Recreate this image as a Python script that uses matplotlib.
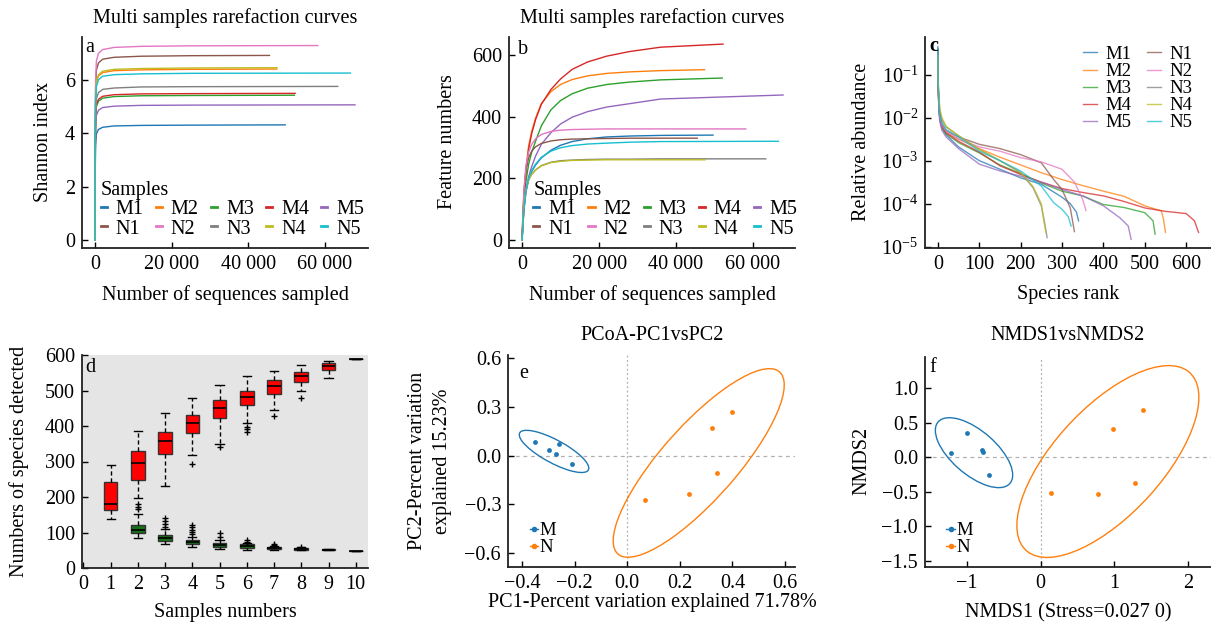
import numpy as np
import matplotlib
matplotlib.use('Agg')
import matplotlib.pyplot as plt
from matplotlib.patches import Ellipse
from matplotlib.lines import Line2D
from matplotlib.ticker import NullLocator

FS = 14.5
plt.rcParams['font.family'] = ['Liberation Serif', 'DejaVu Serif']
plt.rcParams['mathtext.fontset'] = 'custom'
plt.rcParams['mathtext.rm'] = 'Liberation Serif'
plt.rcParams['mathtext.it'] = 'Liberation Serif:italic'
plt.rcParams['font.size'] = FS
plt.rcParams['axes.unicode_minus'] = True

# ---------------- data ----------------
samples = ['M1', 'M2', 'M3', 'M4', 'M5', 'N1', 'N2', 'N3', 'N4', 'N5']
sample_colors = ['#1f77b4', '#ff7f0e', '#2ca02c', '#d62728', '#9467bd',
                 '#8c564b', '#e377c2', '#7f7f7f', '#bcbd22', '#17becf']
seq_depth_end = [49600, 47400, 52000, 52200, 67800, 45500, 58100, 63300, 47500, 66600]

# panel a: Shannon rarefaction
shannon_depth = [0, 60, 150, 350, 900, 2000, 5000, 12000, 25000]
shannon_M1 = [0, 2.60, 3.55, 3.97, 4.14, 4.22, 4.27, 4.29, 4.30, 4.31]
shannon_M2 = [0, 3.85, 5.25, 5.89, 6.14, 6.27, 6.34, 6.37, 6.39, 6.40]
shannon_M3 = [0, 3.25, 4.45, 4.99, 5.20, 5.31, 5.37, 5.40, 5.41, 5.42]
shannon_M4 = [0, 3.30, 4.50, 5.05, 5.27, 5.38, 5.44, 5.47, 5.48, 5.49]
shannon_M5 = [0, 3.05, 4.15, 4.66, 4.86, 4.96, 5.01, 5.04, 5.05, 5.06]
shannon_N1 = [0, 4.15, 5.67, 6.36, 6.63, 6.77, 6.84, 6.88, 6.90, 6.91]
shannon_N2 = [0, 4.37, 5.97, 6.70, 6.99, 7.13, 7.21, 7.25, 7.27, 7.28]
shannon_N3 = [0, 3.45, 4.72, 5.29, 5.52, 5.64, 5.69, 5.73, 5.74, 5.75]
shannon_N4 = [0, 3.87, 5.29, 5.93, 6.19, 6.32, 6.39, 6.42, 6.44, 6.45]
shannon_N5 = [0, 3.75, 5.13, 5.75, 6.00, 6.13, 6.19, 6.22, 6.24, 6.25]
shannon_vals = [shannon_M1, shannon_M2, shannon_M3, shannon_M4, shannon_M5,
                shannon_N1, shannon_N2, shannon_N3, shannon_N4, shannon_N5]

# panel b: feature rarefaction
feat_depth = [0, 200, 500, 1000, 1700, 2500, 3500, 5000, 7500, 10000, 13000, 17000, 22000, 28000, 36000]
feat_M1 = [0, 45, 100, 155, 195, 222, 243, 266, 291, 307, 319, 328, 334, 337, 339, 340]
feat_M2 = [0, 68, 145, 232, 305, 352, 395, 442, 481, 504, 520, 532, 540, 545, 549, 552]
feat_M3 = [0, 55, 120, 190, 245, 285, 320, 370, 422, 452, 474, 492, 504, 512, 519, 525]
feat_M4 = [0, 65, 140, 225, 295, 345, 390, 440, 488, 522, 553, 577, 596, 611, 625, 635]
feat_M5 = [0, 45, 100, 160, 205, 238, 272, 310, 348, 376, 398, 416, 431, 442, 457, 470]
feat_N1 = [0, 80, 160, 225, 267, 288, 302, 313, 321, 325, 327, 328, 329, 330, 330, 330]
feat_N2 = [0, 80, 165, 240, 285, 310, 328, 342, 352, 356, 358, 359, 360, 360, 360, 360]
feat_N3 = [0, 55, 115, 165, 195, 213, 227, 241, 252, 257, 259, 261, 262, 262, 263, 263]
feat_N4 = [0, 55, 115, 165, 195, 213, 227, 240, 251, 255, 258, 259, 260, 260, 260, 260]
feat_N5 = [0, 50, 105, 160, 200, 225, 246, 268, 288, 299, 306, 311, 314, 317, 319, 320]
feat_vals = [feat_M1, feat_M2, feat_M3, feat_M4, feat_M5,
             feat_N1, feat_N2, feat_N3, feat_N4, feat_N5]

# panel c: rank abundance (rank, log10 relative abundance)
rank_M1 = [0, 1, 3, 5, 10, 20, 50, 100, 150, 200, 250, 300, 320, 335, 340]
logab_M1 = [-0.35, -1.3, -1.85, -2.05, -2.25, -2.4, -2.68, -3.0, -3.2, -3.4, -3.55, -3.85, -4.0, -4.2, -4.4]
rank_M2 = [0, 1, 3, 5, 10, 20, 50, 100, 150, 200, 250, 300, 350, 400, 450, 500, 540, 545, 550]
logab_M2 = [-0.55, -1.4, -1.8, -2.0, -2.2, -2.35, -2.5, -2.72, -2.92, -3.1, -3.28, -3.44, -3.58, -3.71, -3.83, -4.05, -4.17, -4.35, -4.67]
rank_M3 = [0, 1, 3, 5, 10, 20, 50, 100, 150, 200, 250, 300, 350, 400, 450, 500, 520, 525]
logab_M3 = [-0.5, -1.35, -1.85, -2.05, -2.22, -2.38, -2.58, -2.82, -3.1, -3.3, -3.52, -3.71, -3.82, -4.02, -4.09, -4.21, -4.4, -4.71]
rank_M4 = [0, 1, 3, 5, 10, 20, 50, 100, 150, 200, 250, 300, 350, 400, 450, 500, 550, 600, 620, 630]
logab_M4 = [-0.45, -1.3, -1.8, -2.0, -2.2, -2.35, -2.55, -2.8, -3.12, -3.32, -3.5, -3.65, -3.74, -3.82, -3.95, -4.1, -4.18, -4.23, -4.4, -4.67]
rank_M5 = [0, 1, 3, 5, 10, 20, 50, 100, 150, 200, 250, 300, 350, 400, 440, 460, 467]
logab_M5 = [-0.5, -1.4, -1.9, -2.1, -2.3, -2.45, -2.72, -3.08, -3.24, -3.36, -3.5, -3.67, -3.82, -4.05, -4.33, -4.52, -4.83]
rank_N1 = [0, 1, 3, 5, 10, 20, 50, 100, 150, 200, 250, 280, 300, 320, 330]
logab_N1 = [-0.4, -1.25, -1.75, -1.95, -2.15, -2.3, -2.45, -2.62, -2.72, -2.86, -3.05, -3.44, -3.67, -4.1, -4.65]
rank_N2 = [0, 1, 3, 5, 10, 20, 50, 100, 150, 200, 250, 300, 330, 350, 358]
logab_N2 = [-0.45, -1.3, -1.8, -2.0, -2.18, -2.32, -2.5, -2.68, -2.78, -2.93, -3.03, -3.2, -3.5, -3.9, -4.16]
rank_N3 = [0, 1, 3, 5, 10, 20, 50, 100, 150, 200, 230, 250, 258, 264]
logab_N3 = [-0.5, -1.2, -1.6, -1.85, -2.05, -2.22, -2.42, -2.74, -3.0, -3.28, -3.63, -4.05, -4.44, -4.79]
rank_N4 = [0, 1, 3, 5, 10, 20, 50, 100, 150, 200, 230, 250, 256, 261]
logab_N4 = [-0.55, -1.15, -1.55, -1.8, -2.0, -2.2, -2.42, -2.74, -3.0, -3.27, -3.6, -4.0, -4.4, -4.67]
rank_N5 = [0, 1, 3, 5, 10, 20, 50, 100, 150, 200, 250, 280, 300, 315, 322]
logab_N5 = [-0.4, -1.3, -1.75, -1.95, -2.12, -2.28, -2.45, -2.78, -3.0, -3.24, -3.59, -3.98, -4.13, -4.3, -4.52]
rank_lists = [rank_M1, rank_M2, rank_M3, rank_M4, rank_M5, rank_N1, rank_N2, rank_N3, rank_N4, rank_N5]
logab_lists = [logab_M1, logab_M2, logab_M3, logab_M4, logab_M5, logab_N1, logab_N2, logab_N3, logab_N4, logab_N5]

# panel d: species accumulation box stats
red_pos = [1, 2, 3, 4, 5, 6, 7, 8, 9, 10]
red_q1 = [163, 249, 321, 381, 423, 460, 491, 524, 558, 590]
red_med = [181, 295, 359, 408, 451, 481, 512, 541, 568, 590]
red_q3 = [241, 329, 384, 430, 474, 500, 530, 552, 577, 590]
red_lo = [138, 196, 232, 319, 348, 409, 444, 500, 535, 590]
red_hi = [289, 386, 436, 478, 515, 540, 556, 571, 583, 590]
red_fliers = [[], [], [], [293], [341], [398, 391, 383], [427], [480], [], []]
green_pos = [2, 3, 4, 5, 6, 7, 8, 9, 10]
green_q1 = [98, 76, 67, 60, 56, 53, 52, 51, 49]
green_med = [107, 85, 74, 66, 61, 55, 54, 52, 49]
green_q3 = [121, 93, 79, 71, 68, 59, 56, 53, 49]
green_lo = [84, 68, 59, 53, 52, 50, 50, 50, 49]
green_hi = [152, 110, 88, 79, 70, 62, 58, 54, 49]
green_fliers = [[166, 173, 179], [116, 125, 133, 142], [95, 101, 108, 115, 121],
                [88, 100], [74, 79], [65, 68], [60], [], []]

# panel e: PCoA
pcoa_M_x = [-0.349, -0.297, -0.260, -0.272, -0.211]
pcoa_M_y = [0.087, 0.036, 0.069, 0.011, -0.050]
pcoa_N_x = [0.067, 0.235, 0.342, 0.323, 0.398]
pcoa_N_y = [-0.274, -0.235, -0.104, 0.169, 0.266]
# ellipses: center x, center y, width, height, angle
pcoa_ell_M = (-0.278, 0.026, 0.351, 0.12, -44.4)
pcoa_ell_N = (0.272, -0.045, 1.29, 0.33, 63.3)

# panel f: NMDS
nmds_M_x = [-1.006, -1.218, -0.798, -0.789, -0.704]
nmds_M_y = [0.357, 0.058, 0.106, 0.068, -0.251]
nmds_N_x = [0.140, 0.771, 1.281, 0.983, 1.389]
nmds_N_y = [-0.512, -0.527, -0.372, 0.401, 0.686]
nmds_ell_M = (-0.905, 0.065, 1.32, 0.62, -43.4)
nmds_ell_N = (0.911, -0.063, 3.4, 1.5, 50.0)

group_colors = ['#1f77b4', '#ff7f0e']

# ---------------- figure ----------------
W, H = 1211, 626
fig = plt.figure(figsize=(W / 100, H / 100), dpi=100)


def rect(l, t, r, b):
    return [l / W, 1 - b / H, (r - l) / W, (b - t) / H]


def style(ax):
    for s in ['top', 'right']:
        ax.spines[s].set_visible(False)
    for s in ['left', 'bottom']:
        ax.spines[s].set_linewidth(1.3)
        ax.spines[s].set_color('#222222')
    ax.tick_params(direction='in', length=4, width=1, pad=5, labelsize=FS)


def ftext(x, y, s, **kw):
    fig.text(x / W, 1 - y / H, s, ha='center', va='center', fontsize=FS, **kw)


# ---- a ----
axa = fig.add_axes(rect(82, 37, 368, 248))
style(axa)
for i, s in enumerate(samples):
    xs = shannon_depth + [seq_depth_end[i]]
    axa.plot(xs, shannon_vals[i], color=sample_colors[i], lw=1)
axa.set_xlim(-3400, 71200)
axa.set_ylim(-0.3, 7.6)
axa.set_xticks([0, 20000, 40000, 60000])
axa.set_xticklabels(['0', '20 000', '40 000', '60 000'])
axa.set_yticks([0, 2, 4, 6])


def sample_legend(ax, x0, y0):
    order = [0, 5, 1, 6, 2, 7, 3, 8, 4, 9]
    hs = [Line2D([0], [0], color=sample_colors[i], lw=2) for i in order]
    ls = [samples[i] for i in order]
    leg = ax.legend(hs, ls, ncol=5, title='Samples', loc='lower left',
                    bbox_to_anchor=(x0, y0), frameon=False, handlelength=0.3,
                    handletextpad=0.45, columnspacing=0.6, borderpad=0,
                    labelspacing=0.0, alignment='left', fontsize=FS,
                    title_fontsize=FS, borderaxespad=0)
    return leg


sample_legend(axa, 0.065, 0.045)
axa.text(0.01, 0.95, 'a', transform=axa.transAxes, fontsize=FS, va='center')
ftext(225, 18, 'Multi samples rarefaction curves')
ftext(44, 142, 'Shannon index', rotation=90)
ftext(225, 295, 'Number of sequences sampled')

# ---- b ----
axb = fig.add_axes(rect(509, 37, 795, 248))
style(axb)
for i, s in enumerate(samples):
    xs = feat_depth + [seq_depth_end[i]]
    axb.plot(xs, feat_vals[i], color=sample_colors[i], lw=1)
axb.set_xlim(-3400, 70900)
axb.set_ylim(-26, 658)
axb.set_xticks([0, 20000, 40000, 60000])
axb.set_xticklabels(['0', '20 000', '40 000', '60 000'])
axb.set_yticks([0, 200, 400, 600])
sample_legend(axb, 0.085, 0.045)
axb.text(0.03, 0.94, 'b', transform=axb.transAxes, fontsize=FS, va='center')
ftext(652, 18, 'Multi samples rarefaction curves')
ftext(448, 142, 'Feature numbers', rotation=90)
ftext(652, 295, 'Number of sequences sampled')

# ---- c ----
axc = fig.add_axes(rect(925, 37, 1211, 248))
style(axc)
for i, s in enumerate(samples):
    axc.plot(rank_lists[i], 10.0 ** np.array(logab_lists[i]), color=sample_colors[i],
             lw=1, alpha=0.75, label=s)
axc.set_yscale('log')
axc.set_ylim(0.93e-5, 0.75)
axc.set_xlim(-31, 660)
axc.set_yticks([1e-5, 1e-4, 1e-3, 1e-2, 1e-1])
axc.yaxis.set_minor_locator(NullLocator())
axc.set_xticks([0, 100, 200, 300, 400, 500, 600])
axc.tick_params(direction='in', length=4, width=1, pad=5, labelsize=FS)
axc.legend(ncol=2, loc='upper right', bbox_to_anchor=(0.935, 0.958), frameon=False,
           handlelength=0.75, handletextpad=0.45, columnspacing=0.8, borderpad=0,
           labelspacing=0.0, fontsize=13.5, borderaxespad=0)
axc.text(0.014, 0.955, 'c', transform=axc.transAxes, fontsize=FS, va='center',
         fontweight='bold')
ftext(862, 142, 'Relative abundance', rotation=90)
ftext(1068, 295, 'Species rank')

# ---- d ----
axd = fig.add_axes(rect(82, 355, 368, 568))
axd.set_facecolor('#e5e5e5')
for s in ['top', 'right']:
    axd.spines[s].set_visible(False)
for s in ['left', 'bottom']:
    axd.spines[s].set_linewidth(1.3)
    axd.spines[s].set_color('#222222')
axd.tick_params(direction='in', length=4, width=1, pad=5, labelsize=FS)


def make_stats(q1, med, q3, lo, hi, fl):
    return [dict(q1=a, med=b, q3=c, whislo=d, whishi=e, fliers=f)
            for a, b, c, d, e, f in zip(q1, med, q3, lo, hi, fl)]


common = dict(widths=0.5, patch_artist=True, manage_ticks=False, capwidths=0.3,
              medianprops=dict(color='black', lw=1.2),
              whiskerprops=dict(color='black', lw=1, linestyle=(0, (3, 2))),
              capprops=dict(color='black', lw=1),
              flierprops=dict(marker='+', markersize=4, markeredgecolor='black',
                              markeredgewidth=1, linestyle='none'))
axd.bxp(make_stats(red_q1, red_med, red_q3, red_lo, red_hi, red_fliers),
        positions=red_pos, boxprops=dict(facecolor='#ff0000', edgecolor='#333333', lw=1),
        **common)
axd.bxp(make_stats(green_q1, green_med, green_q3, green_lo, green_hi, green_fliers),
        positions=green_pos, boxprops=dict(facecolor='#177017', edgecolor='#333333', lw=1),
        **common)
axd.set_xlim(-0.05, 10.45)
axd.set_ylim(0, 600)
axd.set_xticks(range(0, 11))
axd.set_xticklabels([str(v) for v in range(0, 11)])
axd.set_yticks([0, 100, 200, 300, 400, 500, 600])
axd.text(0.01, 0.94, 'd', transform=axd.transAxes, fontsize=FS, va='center')
ftext(19, 461, 'Numbers of species detected', rotation=90)
ftext(225, 613, 'Samples numbers')


# ---- e ----
def scatter_panel(ax, mx, my, nx, ny, ellM, ellN):
    style(ax)
    ax.axhline(0, color='#b0b0b0', lw=0.9, ls=(0, (3, 3)), zorder=0)
    ax.axvline(0, color='#b0b0b0', lw=0.9, ls=(0, (1.5, 2)), zorder=0)
    ax.scatter(mx, my, s=12, color=group_colors[0], zorder=3, linewidths=0)
    ax.scatter(nx, ny, s=12, color=group_colors[1], zorder=3, linewidths=0)
    for e, c in zip([ellM, ellN], group_colors):
        ax.add_patch(Ellipse((e[0], e[1]), e[2], e[3], angle=e[4], fill=False,
                             edgecolor=c, lw=1))
    hs = [Line2D([0], [0], color=c, marker='o', ms=3, lw=1) for c in group_colors]
    ax.legend(hs, ['M', 'N'], loc='lower left', bbox_to_anchor=(0.075, 0.05),
              frameon=False, handlelength=0.45, handletextpad=0.1, borderpad=0,
              labelspacing=0.0, fontsize=13.5, borderaxespad=0)


axe = fig.add_axes(rect(508, 355, 795, 567))
scatter_panel(axe, pcoa_M_x, pcoa_M_y, pcoa_N_x, pcoa_N_y, pcoa_ell_M, pcoa_ell_N)
axe.set_xlim(-0.453, 0.638)
axe.set_ylim(-0.686, 0.62)
axe.set_xticks([-0.4, -0.2, 0.0, 0.2, 0.4, 0.6])
axe.set_xticklabels(['\u22120.4', '\u22120.2', '0.0', '0.2', '0.4', '0.6'])
axe.set_yticks([-0.6, -0.3, 0.0, 0.3, 0.6])
axe.set_yticklabels(['\u22120.6', '\u22120.3', '0.0', '0.3', '0.6'])
axe.text(0.038, 0.915, 'e', transform=axe.transAxes, fontsize=FS, va='center')
ftext(652, 335, 'PCoA-PC1vsPC2')
ftext(417, 461, 'PC2-Percent variation', rotation=90)
ftext(442, 461, 'explained 15.23%', rotation=90)
ftext(652, 603, 'PC1-Percent variation explained 71.78%')

# ---- f ----
axf = fig.add_axes(rect(925, 357, 1211, 567))
scatter_panel(axf, nmds_M_x, nmds_M_y, nmds_N_x, nmds_N_y, nmds_ell_M, nmds_ell_N)
axf.set_xlim(-1.57, 2.31)
axf.set_ylim(-1.59, 1.45)
axf.set_xticks([-1, 0, 1, 2])
axf.set_xticklabels(['\u22121', '0', '1', '2'])
axf.set_yticks([-1.5, -1.0, -0.5, 0.0, 0.5, 1.0])
axf.set_yticklabels(['\u22121.5', '\u22121.0', '\u22120.5', '0.0', '0.5', '1.0'])
axf.text(0.014, 0.95, 'f', transform=axf.transAxes, fontsize=FS, va='center')
ftext(1068, 335, 'NMDS1vsNMDS2')
ftext(862, 461, 'NMDS2', rotation=90)
ftext(1068, 613, 'NMDS1 (Stress=0.027 0)')

fig.savefig('out.png', dpi=100)
